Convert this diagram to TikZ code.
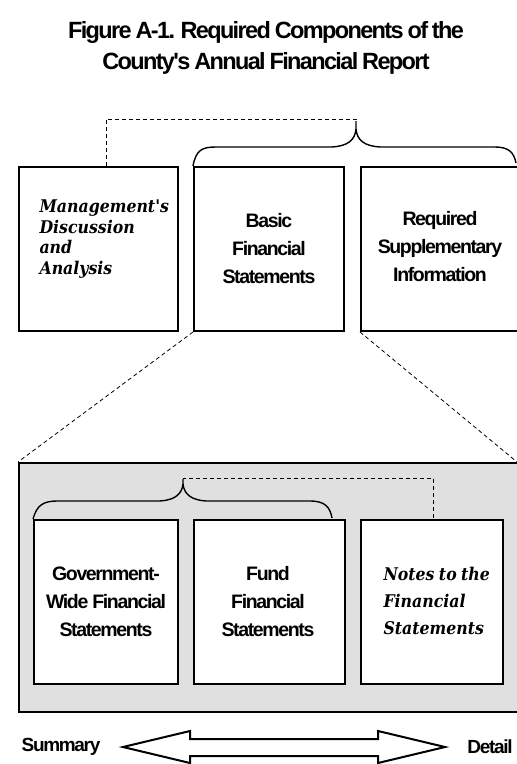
\documentclass[tikz,border=0pt]{standalone}
\usepackage{fontspec}
\setmainfont{Liberation Sans}
\newfontfamily\sansb[LetterSpace=-7,WordSpace=0.8]{Liberation Sans}
\newfontfamily\serit[FakeStretch=0.9,WordSpace=0.8]{DejaVu Serif}
\definecolor{panelgray}{gray}{0.88}
\begin{document}
\begin{tikzpicture}[x=1pt,y=-1pt,
  box/.style={draw=black,line width=2pt,fill=white,minimum width=#1,minimum height=164pt,inner sep=0pt},
  stext/.style={font=\sansb\bfseries\fontsize{19.5}{28}\selectfont,align=center},
  itext/.style={font=\serit\bfseries\itshape\fontsize{17.5}{20.5}\selectfont,align=left},
  dashline/.style={dashed,line width=1pt,dash pattern=on 4pt off 3pt},
  brace/.style={line width=1.4pt}]
\useasboundingbox (0,0) rectangle (517,764);
% title
\node[font=\sansb\bfseries\fontsize{23.5}{31}\selectfont,align=center] (title) at (266,48) {Figure A-1. Required Components of the\\County's Annual Financial Report};
% top boxes
\node[box=159pt,anchor=north west] (mda) at (18,166) {};
\node[box=150pt,anchor=north west] (bfs) at (193,166) {};
\node[box=160pt,anchor=north west] (rsi) at (360,166) {};
\node[itext,anchor=west] (mdat) at (36,239) {Management's\\Discussion\\and\\Analysis};
\node[stext] (bfst) at (bfs.center) {Basic\\Financial\\Statements};
\node[stext] (rsit) at (440,247) {Required\\Supplementary\\Information};
% top brace
\coordinate (tb) at (356,121);
\draw[brace] (bfs.north west) .. controls (196,150) and (202,147) .. (216,147) -- (332,147) .. controls (348,146) and (355,140) .. (356,129) -- (tb);
\draw[brace] (356,129) .. controls (357,140) and (364,146) .. (380,147) -- (495,147) .. controls (508,147) and (514,152) .. (516,163);
\coordinate (td) at (106,119);
\draw[dashline] (mda.north -| td) -- (td) -- (tb |- td) -- (tb);
% panel
\node[draw=black,line width=2pt,fill=panelgray,anchor=north west,minimum width=510pt,minimum height=249pt,inner sep=0pt] (panel) at (18,462) {};
\draw[dashline,line width=0.8pt] (bfs.south west) -- (panel.north west);
\draw[dashline,line width=0.8pt] (rsi.south west) -- (517,462);
% bottom boxes
\node[box=144pt,anchor=north west] (gw) at (33,519) {};
\node[box=151pt,anchor=north west] (fund) at (193,519) {};
\node[box=142pt,anchor=north west] (notes) at (360,519) {};
\node[stext] (gwt) at (106,602) {Government-\\Wide\hspace{4pt}Financial\\Statements};
\node[stext] (fundt) at (268,602) {Fund\\Financial\\Statements};
\node[itext,anchor=west,font=\serit\bfseries\itshape\fontsize{17.5}{27}\selectfont] (notest) at (380,601) {Notes to the\\Financial\\Statements};
% bottom brace
\coordinate (bb) at (183,479);
\draw[brace] (gw.north west) .. controls (37,505) and (43,501) .. (58,501) -- (160,501) .. controls (175,500) and (182,494) .. (183,484) -- (bb);
\draw[brace] (183,484) .. controls (184,494) and (191,500) .. (206,501) -- (310,501) .. controls (325,501) and (330,507) .. (332,518);
\coordinate (bd) at (433,478);
\draw[dashline] (bb) -- (bb |- bd) -- (bd) -- (notes.north -| bd);
% arrow
\node[font=\sansb\bfseries\fontsize{19}{20}\selectfont] (sum) at (61,747) {Summary};
\node[font=\sansb\bfseries\fontsize{19}{20}\selectfont] (det) at (490,747) {Detail};
\draw[line width=2pt,fill=white,line join=miter] (123,747) -- (190,731) -- (190,739) -- (378,739) -- (378,731) -- (445,747) -- (378,763) -- (378,756) -- (190,756) -- (190,763) -- cycle;
\end{tikzpicture}
\end{document}
